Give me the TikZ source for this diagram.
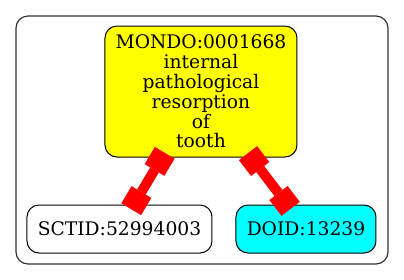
\documentclass[tikz,border=0pt]{standalone}
\usepackage{fontspec}
\setmainfont{DejaVu Serif}
\usetikzlibrary{arrows.meta}

\definecolor{termyellow}{HTML}{FFFF00}
\definecolor{termcyan}{HTML}{00FFFF}
\definecolor{framegray}{HTML}{333333}

\tikzset{
  term/.style={draw, rounded corners=6pt, line width=0.5pt, inner sep=0pt,
    align=center, font=\fontsize{9.35}{9.9}\selectfont},
  boxtip/.tip={Square[length=10pt,width=11.5pt,line width=0pt]},
  xref/.style={draw=red, line width=5pt, {boxtip}-{boxtip},
    shorten <=-2.75pt, shorten >=-2.75pt}
}

\begin{document}
\begin{tikzpicture}[x=0.5pt,y=-0.5pt]
  \useasboundingbox (0,0) rectangle (404,280);
  % cluster frame
  \draw[framegray, line width=0.6pt, rounded corners=6pt] (16,16) rectangle (388,264);

  % terms
  \node[term, fill=termyellow, minimum width=96pt, minimum height=65.5pt] (mondo) at (201,91.5)
    {MONDO:0001668\\internal\\pathological\\resorption\\of\\tooth};
  \node[term, fill=white, minimum width=92.5pt, minimum height=24pt] (sctid) at (119.5,229)
    {SCTID:52994003};
  \node[term, fill=termcyan, minimum width=70pt, minimum height=24pt] (doid) at (306,229)
    {DOID:13239};

  % cross references
  \draw[xref] (mondo) -- (sctid);
  \draw[xref] (mondo) -- (doid);
\end{tikzpicture}
\end{document}
